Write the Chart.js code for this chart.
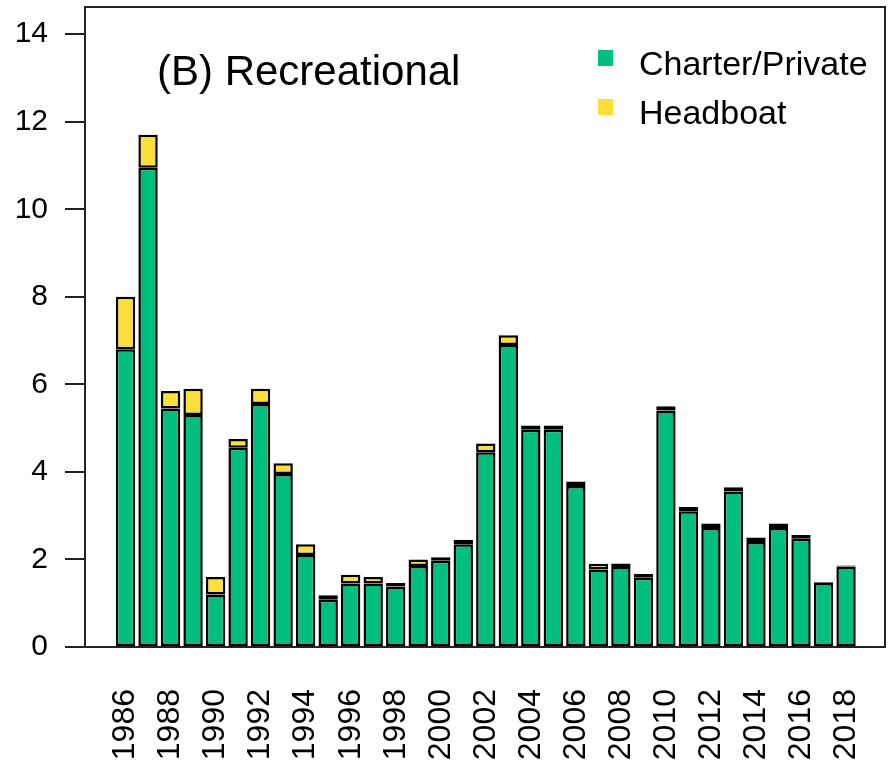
<!DOCTYPE html>
<html lang="en">
<head>
  <meta charset="UTF-8" />
  <title>(B) Recreational</title>
  <script src="https://cdn.jsdelivr.net/npm/chart.js"></script>
  <style>
    html, body { margin: 0; padding: 0; background: #fff; }
    .wrap { width: 893px; height: 768px; position: relative; }
  </style>
</head>
<body>
  <div class="wrap"><canvas id="recChart"></canvas></div>

  <script>
    // Data
    const years = [1986, 1987, 1988, 1989, 1990, 1991, 1992, 1993, 1994, 1995, 1996,
                   1997, 1998, 1999, 2000, 2001, 2002, 2003, 2004, 2005, 2006, 2007,
                   2008, 2009, 2010, 2011, 2012, 2013, 2014, 2015, 2016, 2017, 2018];
    const charterPrivate = [6.8, 10.95, 5.45, 5.3, 1.2, 4.55, 5.55, 3.95, 2.1, 1.08, 1.45,
                            1.45, 1.38, 1.85, 1.97, 2.35, 4.45, 6.9, 4.96, 4.96, 3.68, 1.77,
                            1.83, 1.58, 5.4, 3.1, 2.72, 3.55, 2.4, 2.72, 2.47, 1.46, 1.84];
    const headboat = [1.2, 0.75, 0.4, 0.6, 0.4, 0.2, 0.35, 0.25, 0.25, 0.1, 0.2,
                      0.15, 0.08, 0.15, 0.08, 0.1, 0.2, 0.22, 0.1, 0.1, 0.1, 0.13,
                      0.08, 0.09, 0.1, 0.1, 0.1, 0.1, 0.1, 0.1, 0.09, 0.02, 0.02];
    const yTicks = [0, 2, 4, 6, 8, 10, 12, 14];
    const xTicks = [1986, 1988, 1990, 1992, 1994, 1996, 1998, 2000, 2002,
                    2004, 2006, 2008, 2010, 2012, 2014, 2016, 2018];

    const FONT = '"Liberation Sans", Arial, sans-serif';
    const GREEN = '#00BE7D';
    const YELLOW = '#FDDE3A';

    // frame box, panel title and legend drawn inside the plot area
    const panelPlugin = {
      id: 'panel',
      afterDraw(chart) {
        const { ctx, chartArea: a } = chart;
        ctx.save();
        ctx.strokeStyle = '#222';
        ctx.lineWidth = 2;
        ctx.strokeRect(a.left, a.top, a.right - a.left, a.bottom - a.top);

        ctx.fillStyle = '#000';
        ctx.textBaseline = 'alphabetic';
        ctx.font = '42px ' + FONT;
        ctx.fillText('(B) Recreational', a.left + 72, a.top + 78);

        ctx.font = '34px ' + FONT;
        chart.data.datasets.forEach((ds, i) => {
          const y = a.top + 43 + i * 49;
          ctx.fillStyle = ds.backgroundColor;
          ctx.fillRect(a.right - 287, y, 15, 16);
          ctx.fillStyle = '#000';
          ctx.fillText(ds.label, a.right - 246, y + 25);
        });
        ctx.restore();
      }
    };

    new Chart(document.getElementById('recChart'), {
      type: 'bar',
      data: {
        labels: years,
        datasets: [
          {
            label: 'Charter/Private',
            data: charterPrivate,
            backgroundColor: GREEN,
            borderColor: '#000',
            borderWidth: 2.5,
            borderSkipped: false
          },
          {
            label: 'Headboat',
            data: headboat,
            backgroundColor: YELLOW,
            borderColor: '#000',
            borderWidth: 2.5,
            borderSkipped: false
          }
        ]
      },
      options: {
        responsive: true,
        maintainAspectRatio: false,
        animation: false,
        devicePixelRatio: 1,
        barPercentage: 0.86,
        categoryPercentage: 1,
        layout: { padding: { top: 7, right: 8, left: 0, bottom: 0 } },
        plugins: {
          legend: { display: false },
          tooltip: { enabled: false }
        },
        scales: {
          x: {
            type: 'linear',
            stacked: true,
            offset: false,
            min: 1984.2,
            max: 2019.73,
            grid: { display: false, drawTicks: false, offset: false },
            border: { display: false },
            afterBuildTicks: (scale) => { scale.ticks = xTicks.map(v => ({ value: v })); },
            afterFit: (scale) => {
              scale.height = 121;
              scale.paddingLeft = 0;
              scale.paddingRight = 0;
            },
            ticks: {
              autoSkip: false,
              minRotation: 90,
              maxRotation: 90,
              padding: 42,
              color: '#000',
              font: { family: FONT, size: 32 },
              callback: (v) => String(v)
            }
          },
          y: {
            stacked: true,
            min: 0,
            max: 14.62,
            grid: {
              drawOnChartArea: false,
              drawTicks: true,
              tickLength: 20,
              tickColor: '#222',
              lineWidth: 2
            },
            border: { display: false },
            afterBuildTicks: (scale) => { scale.ticks = yTicks.map(v => ({ value: v })); },
            afterFit: (scale) => {
              scale.width = 85;
              scale.paddingTop = 0;
              scale.paddingBottom = 0;
            },
            ticks: {
              padding: 17,
              color: '#000',
              font: { family: FONT, size: 30 }
            }
          }
        }
      },
      plugins: [panelPlugin]
    });
  </script>
</body>
</html>
